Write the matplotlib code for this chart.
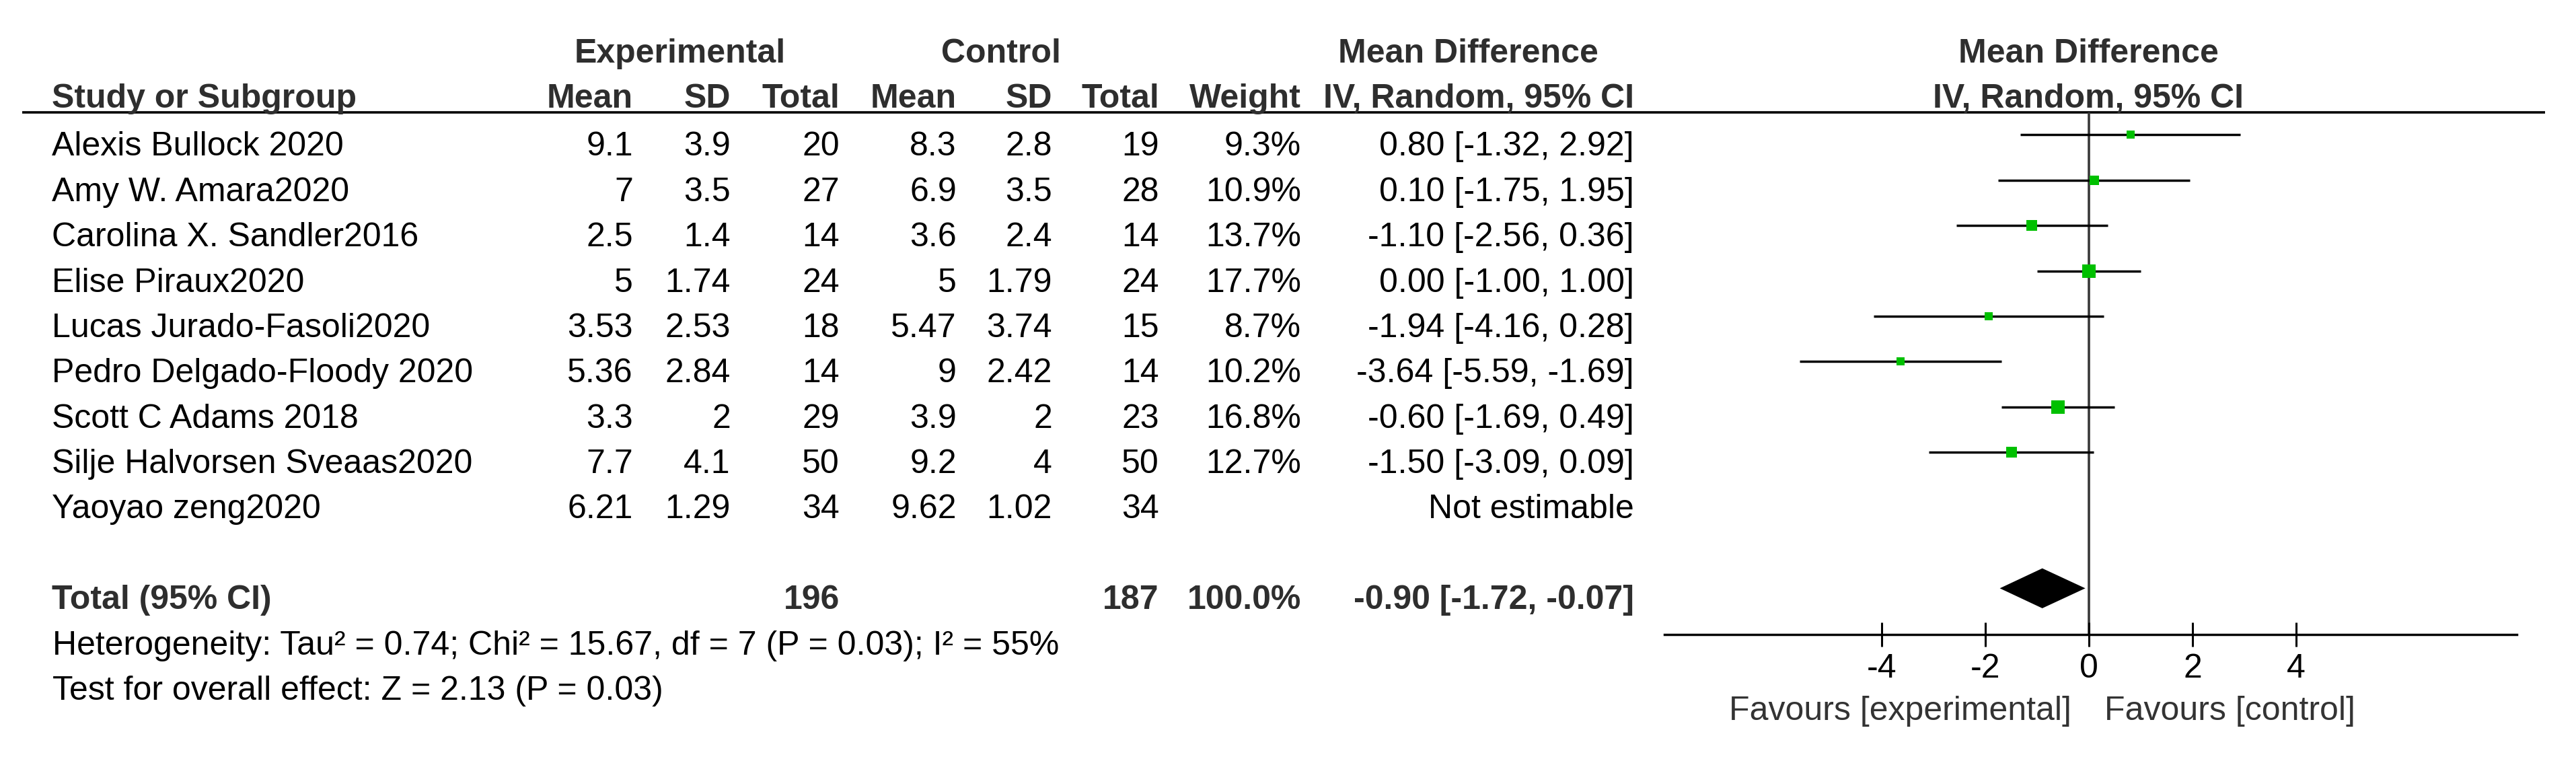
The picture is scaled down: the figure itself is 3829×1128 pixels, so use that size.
import matplotlib
matplotlib.use("Agg")
import matplotlib.pyplot as plt

plt.rcParams['font.family'] = ['Liberation Sans', 'DejaVu Sans']
plt.rcParams['axes.unicode_minus'] = False

# ---------------- data ----------------
studies = ["Alexis Bullock 2020", "Amy W. Amara2020", "Carolina X. Sandler2016",
           "Elise Piraux2020", "Lucas Jurado-Fasoli2020", "Pedro Delgado-Floody 2020",
           "Scott C Adams 2018", "Silje Halvorsen Sveaas2020", "Yaoyao zeng2020"]
exp_mean = [9.1, 7, 2.5, 5, 3.53, 5.36, 3.3, 7.7, 6.21]
exp_sd = [3.9, 3.5, 1.4, 1.74, 2.53, 2.84, 2, 4.1, 1.29]
exp_n = [20, 27, 14, 24, 18, 14, 29, 50, 34]
ctl_mean = [8.3, 6.9, 3.6, 5, 5.47, 9, 3.9, 9.2, 9.62]
ctl_sd = [2.8, 3.5, 2.4, 1.79, 3.74, 2.42, 2, 4, 1.02]
ctl_n = [19, 28, 14, 24, 15, 14, 23, 50, 34]
weight = [9.3, 10.9, 13.7, 17.7, 8.7, 10.2, 16.8, 12.7, None]
md = [0.80, 0.10, -1.10, 0.00, -1.94, -3.64, -0.60, -1.50, None]
ci_lo = [-1.32, -1.75, -2.56, -1.00, -4.16, -5.59, -1.69, -3.09, None]
ci_hi = [2.92, 1.95, 0.36, 1.00, 0.28, -1.69, 0.49, 0.09, None]

total_exp_n = 196
total_ctl_n = 187
total_weight = 100.0
total_md = -0.90
total_lo = -1.72
total_hi = -0.07

heterogeneity = "Heterogeneity: Tau\u00b2 = 0.74; Chi\u00b2 = 15.67, df = 7 (P = 0.03); I\u00b2 = 55%"
overall_test = "Test for overall effect: Z = 2.13 (P = 0.03)"
xticks = [-4, -2, 0, 2, 4]
favours_left = "Favours [experimental]"
favours_right = "Favours [control]"

# ---------------- layout ----------------
W, H = 3830, 1128
fig = plt.figure(figsize=(W / 100, H / 100), dpi=100)
ax_t = fig.add_axes([0, 0, 1, 1])
ax_t.set_xlim(0, W)
ax_t.set_ylim(H, 0)
ax_t.axis('off')

FS = 36
BODY = 'black'
BOLD = '#2e2e2e'
row0 = 200.3      # y (px) of first study row line
dy = 67.4         # row spacing (px)
base_off = 31     # text baseline offset below row center

x_name = 77
x_emean, x_esd, x_en = 941, 1086, 1248
x_cmean, x_csd, x_cn = 1422, 1564, 1723
x_w, x_ci = 1934, 2429

def txt(x, y, s, ha='right', bold=False, color=None):
    ax_t.text(x, y, s, ha=ha, va='baseline', fontsize=FS,
              fontweight='bold' if bold else 'normal',
              color=color if color else (BOLD if bold else BODY))

# headers
txt(1011, 93, "Experimental", ha='center', bold=True)
txt(1488, 93, "Control", ha='center', bold=True)
txt(2182, 93, "Mean Difference", ha='center', bold=True)
txt(3104, 93, "Mean Difference", ha='center', bold=True)
txt(x_name, 160, "Study or Subgroup", ha='left', bold=True)
for x, s in [(x_emean, "Mean"), (x_esd, "SD"), (x_en, "Total"),
             (x_cmean, "Mean"), (x_csd, "SD"), (x_cn, "Total"),
             (x_w, "Weight"), (x_ci, "IV, Random, 95% CI")]:
    txt(x, 160, s, bold=True)
txt(3104, 160, "IV, Random, 95% CI", ha='center', bold=True)
ax_t.plot([33, 3783], [166.5, 166.5], color='black', lw=2.6, solid_capstyle='butt')

# study rows
for i, name in enumerate(studies):
    yb = row0 + i * dy + base_off
    txt(x_name, yb, name, ha='left')
    txt(x_emean, yb, f"{exp_mean[i]:g}")
    txt(x_esd, yb, f"{exp_sd[i]:g}")
    txt(x_en, yb, f"{exp_n[i]}")
    txt(x_cmean, yb, f"{ctl_mean[i]:g}")
    txt(x_csd, yb, f"{ctl_sd[i]:g}")
    txt(x_cn, yb, f"{ctl_n[i]}")
    if weight[i] is not None:
        txt(x_w, yb, f"{weight[i]:.1f}%")
        txt(x_ci, yb, f"{md[i]:.2f} [{ci_lo[i]:.2f}, {ci_hi[i]:.2f}]")
    else:
        txt(x_ci, yb, "Not estimable")

# total row
i_tot = len(studies) + 1
yb = row0 + i_tot * dy + base_off
txt(x_name, yb, "Total (95% CI)", ha='left', bold=True)
txt(x_en, yb, f"{total_exp_n}", bold=True)
txt(x_cn, yb, f"{total_ctl_n}", bold=True)
txt(x_w, yb, f"{total_weight:.1f}%", bold=True)
txt(x_ci, yb, f"{total_md:.2f} [{total_lo:.2f}, {total_hi:.2f}]", bold=True)
txt(78, row0 + (i_tot + 1) * dy + base_off, heterogeneity, ha='left')
txt(78, row0 + (i_tot + 2) * dy + base_off, overall_test, ha='left')

# ---------------- forest plot ----------------
zero_px, unit_px = 3105, 77.0
axL, axR, axT, axB = 2474, 3741, 166.5, 942.7
ax_f = fig.add_axes([axL / W, 1 - axB / H, (axR - axL) / W, (axB - axT) / H])
ax_f.set_xlim((axL - zero_px) / unit_px, (axR - zero_px) / unit_px)
ax_f.set_ylim((axB - row0) / dy, (axT - row0) / dy)
ax_f.patch.set_alpha(0)
for s in ['top', 'left', 'right']:
    ax_f.spines[s].set_visible(False)
ax_f.spines['bottom'].set_linewidth(2.5)
ax_f.set_yticks([])
ax_f.set_xticks(xticks)
ax_f.set_xticklabels([f"{t:d}" for t in xticks])
ax_f.tick_params(axis='x', direction='inout', length=26.6, width=2.2,
                 pad=7.2, labelsize=FS, colors='black')

ax_f.axvline(0, color='#383838', lw=2.6, zorder=1)
for i in range(len(studies)):
    if md[i] is None:
        continue
    ax_f.plot([ci_lo[i], ci_hi[i]], [i, i], color='black', lw=2.5,
              solid_capstyle='butt', zorder=2)
    side_px = 2 + 1.07 * weight[i]
    ax_f.plot(md[i], i, marker='s', color='#00c000', markersize=side_px * 0.72,
              markeredgewidth=0, linestyle='none', zorder=3)

h = 0.44
ax_f.fill([total_lo, total_md, total_hi, total_md],
          [i_tot, i_tot - h, i_tot, i_tot + h], color='black', zorder=3, lw=0)

txt(3079, 1070, favours_left, ha='right', color='#333333')
txt(3128, 1070, favours_right, ha='left', color='#333333')

fig.savefig("out.png", dpi=100)
